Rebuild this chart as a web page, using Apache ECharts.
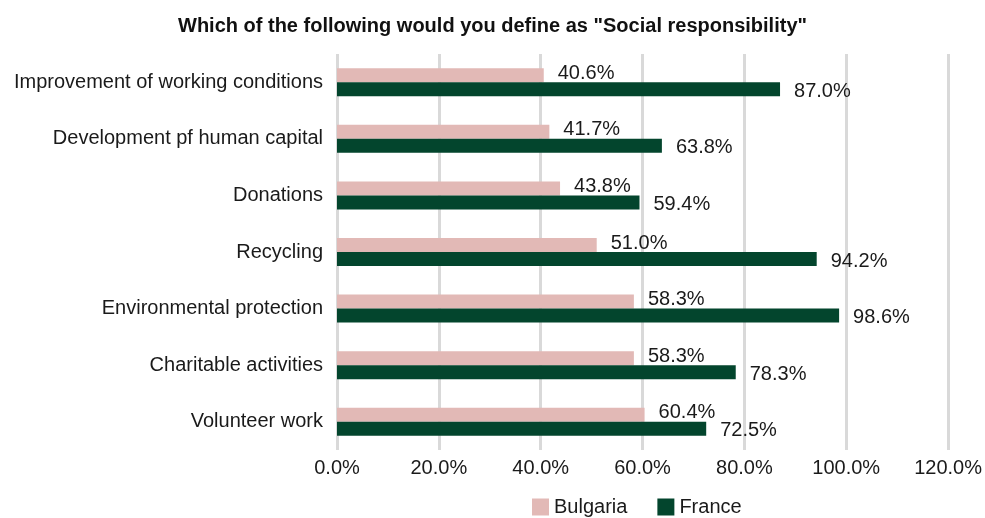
<!DOCTYPE html>
<html>
<head>
<meta charset="utf-8">
<script src="https://cdn.jsdelivr.net/npm/echarts@6/dist/echarts.min.js"></script>
<style>
  html, body { margin: 0; padding: 0; background: #fff; }
  #main { width: 985px; height: 518px; }
</style>
</head>
<body>
<div id="main"></div>
<script>
// 类别（从上到下）
var categories = [
  'Improvement of working conditions',
  'Development pf human capital',
  'Donations',
  'Recycling',
  'Environmental protection',
  'Charitable activities',
  'Volunteer work'
];
var bulgaria = [40.6, 41.7, 43.8, 51.0, 58.3, 58.3, 60.4];
var france = [87.0, 63.8, 59.4, 94.2, 98.6, 78.3, 72.5];
var xTicks = [0, 20, 40, 60, 80, 100, 120];

var chart = echarts.init(document.getElementById('main'));
var font = 'Liberation Sans, Arial, sans-serif';
var pct = function (v) { return v.toFixed(1) + '%'; };

var option = {
  animation: false,
  textStyle: { fontFamily: font },
  title: {
    text: 'Which of the following would you define as "Social responsibility"',
    left: 'center',
    top: 11,
    textStyle: { fontSize: 20, fontWeight: 'bold', color: '#111', fontFamily: font }
  },
  legend: {
    bottom: -4,
    left: 527,
    icon: 'rect',
    itemWidth: 17,
    itemHeight: 17,
    itemGap: 30,
    textStyle: { fontSize: 20, color: '#1a1a1a' },
    data: ['Bulgaria', 'France']
  },
  grid: { left: 337, right: 36, top: 54, bottom: 68 },
  xAxis: {
    type: 'value',
    min: xTicks[0],
    max: xTicks[xTicks.length - 1],
    interval: 20,
    axisLine: { show: false },
    axisTick: { show: false },
    splitLine: { lineStyle: { color: '#d9d9d9', width: 3 } },
    axisLabel: { fontSize: 20, color: '#1a1a1a', margin: 8, formatter: pct }
  },
  yAxis: {
    type: 'category',
    inverse: true,
    data: categories,
    axisLine: { show: false },
    axisTick: { show: false },
    axisLabel: { fontSize: 20, color: '#1a1a1a', margin: 14 }
  },
  series: [
    {
      name: 'Bulgaria',
      type: 'bar',
      data: bulgaria,
      barWidth: 14,
      barGap: '0%',
      itemStyle: { color: '#e2b9b6' },
      label: {
        show: true, position: 'right', distance: 14, offset: [0, -2],
        fontSize: 20, color: '#1a1a1a',
        formatter: function (p) { return pct(p.value); }
      }
    },
    {
      name: 'France',
      type: 'bar',
      data: france,
      barWidth: 14,
      barGap: '0%',
      itemStyle: { color: '#03452d' },
      label: {
        show: true, position: 'right', distance: 14, offset: [0, 2],
        fontSize: 20, color: '#1a1a1a',
        formatter: function (p) { return pct(p.value); }
      }
    }
  ]
};
chart.setOption(option);
</script>
</body>
</html>
